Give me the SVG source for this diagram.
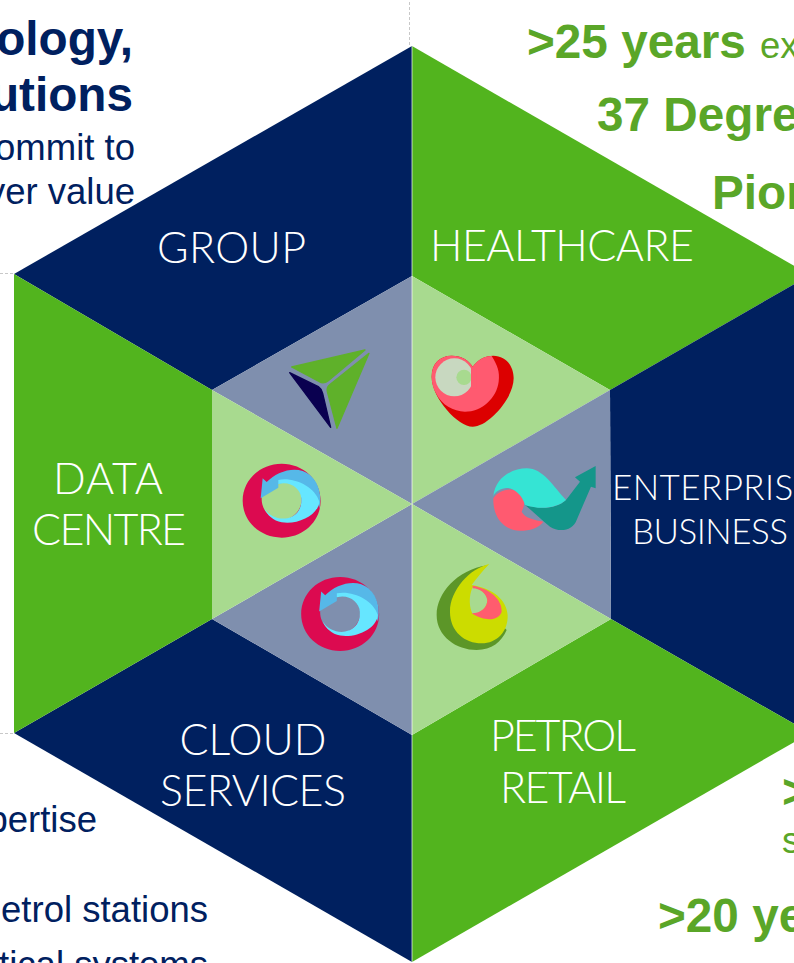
<svg xmlns="http://www.w3.org/2000/svg" width="794" height="963" viewBox="0 0 794 963">
<style>
.navy{fill:#00205f}.green{fill:#52b41e}.tintb{fill:#7f8fae}.tintg{fill:#a8da8f}
.lab{font-family:"Lato","Liberation Sans",sans-serif;font-weight:300;font-size:43px;fill:#fff;text-anchor:middle}
.lab2{font-size:35px}
.hb{font-family:"Liberation Sans",Arial,sans-serif;font-weight:700;font-size:47.700px}
.b{font-family:"Liberation Sans",Arial,sans-serif;font-size:36.500px}
.tn{fill:#00205f}.tg{fill:#5aa628}
.dot{fill:none;stroke:#c8c8c8;stroke-width:1;stroke-dasharray:3 2}
</style>
<defs>
<g id="ring">
<path fill="#dc0a50" fill-rule="evenodd" d="M98,512C98,450 150,401 215,401C280,401 332,450 332,512C332,574 280,623 215,623C150,623 98,574 98,512ZM155,508C155,541 182,570 215,570C248,570 275,541 275,508C275,473 248,448 215,448C182,448 155,473 155,508Z"/>
<path fill="#56b8e8" d="M158,445L170,456C205,420 265,405 300,435C330,462 335,500 328,535C320,490 270,440 205,462L205,473L152,505Z"/>
<path fill="#66e6ff" d="M205,450C250,440 315,470 328,515C325,555 265,585 215,577C190,572 172,557 163,535C190,582 278,578 274,505C272,475 240,452 205,462Z"/>
</g>
</defs>
<g id="left-text">
<text class="hb tn" x="133" y="55" text-anchor="end">ology,</text>
<text class="hb tn" x="133" y="111" text-anchor="end">utions</text>
<text class="b tn" x="135" y="160" text-anchor="end">ommit to</text>
<text class="b tn" x="135" y="204" text-anchor="end">ver value</text>
<text class="b tn" x="97" y="832" text-anchor="end">pertise</text>
<text class="b tn" x="208" y="922" text-anchor="end">etrol stations</text>
<text class="b tn" x="208" y="977" text-anchor="end">tical systems</text>
</g>
<g id="right-text">
<text class="hb tg" x="527" y="58">&gt;25 years</text>
<text class="b tg" x="760" y="58">ex</text>
<text class="hb tg" x="597" y="131">37 Degre</text>
<text class="hb tg" x="712" y="209">Pior</text>
<text class="hb tg" x="782" y="808">&gt;</text>
<text class="b tg" x="782" y="853">s</text>
<text class="hb tg" x="658" y="932">&gt;20 ye</text>
</g>
<g id="connectors">
<path class="dot" d="M409.500,2V46M0,273.500H14M0,733.500H14"/>
</g>
<g id="group-seg">
<path class="navy" d="M412,46L14,274L212,390L412,276Z"/>
<path class="tintb" d="M412,276L212,390L412,504Z"/>
<g transform="translate(210,330) scale(.3333)">
<path fill="#5fb12a" stroke="#5fb12a" stroke-width="4" stroke-linejoin="round" d="M245,111L465,60L355,152C345,160 335,160 328,155Z"/>
<path fill="#5fb12a" stroke="#5fb12a" stroke-width="4" stroke-linejoin="round" d="M477,70L381,295L352,185C350,175 352,170 358,165Z"/>
<path fill="#0a0050" stroke="#0a0050" stroke-width="4" stroke-linejoin="round" d="M239,128L325,170C332,175 336,180 338,190L362,292Z"/>
</g>
<text class="lab" x="231.500" y="263" textLength="149">GROUP</text>
</g>
<g id="healthcare-seg">
<path class="green" d="M412,46L810,275L610,390L412,276Z"/>
<path class="tintg" d="M412,276L610,390L412,504Z"/>
<g transform="translate(410,330) scale(.3333)">
<path fill="#dc0000" d="M65,140C65,100 90,77 125,77C155,77 175,90 188,110C205,88 225,77 250,77C285,77 311,105 311,145C311,205 235,290 188,290C145,290 65,205 65,140Z"/>
<path fill="#ff5a70" d="M65,140C65,100 90,77 125,77C155,77 175,90 188,110C205,88 225,77 245,78C262,105 270,125 266,155C260,205 215,245 165,245C130,245 95,225 78,190C70,175 65,160 65,140Z"/>
<circle cx="133" cy="142" r="57" fill="#c8d8c0"/>
<circle cx="162" cy="142" r="23" fill="#a8da8f"/>
<path fill="#ff5a70" d="M183,113H200V175H183Z"/>
</g>
<text class="lab" x="562" y="261" textLength="264">HEALTHCARE</text>
</g>
<g id="enterprise-seg">
<path class="navy" d="M810,275L610,390L611,619L810,733Z"/>
<path class="tintb" d="M610,390L611,619L412,504Z"/>
<g transform="translate(410,330) scale(.3333)">
<path fill="#ff5a70" d="M250,505C265,480 310,465 335,495C345,510 345,525 335,545C345,565 375,570 400,575C385,595 360,602 330,602C285,602 248,565 250,505Z"/>
<path fill="#14968a" d="M345,525C400,540 440,535 468,510L510,455L495,442L557,408L557,475L543,470L500,570C490,600 450,610 420,590C395,570 370,545 345,525Z"/>
<path fill="#35e4d4" d="M250,500C255,440 310,415 350,415C400,415 430,470 468,510C440,535 390,540 345,525C335,490 305,470 285,475C265,478 252,490 250,500Z"/>
</g>
<text class="lab lab2" x="713" y="500" textLength="202">ENTERPRISE</text>
<text class="lab lab2" x="710" y="544" textLength="156">BUSINESS</text>
</g>
<g id="petrol-seg">
<path class="green" d="M611,619L810,733L412,962L412,735Z"/>
<path class="tintg" d="M611,619L412,735L412,504Z"/>
<g transform="translate(280,550) scale(.3333)">
<path fill="#5c9628" d="M622,46C530,60 470,130 470,195C470,260 530,300 590,300C635,300 665,275 680,240L560,110Z"/>
<path fill="#ccdc00" d="M628,42C570,55 510,120 510,185C510,245 555,280 605,280C650,280 685,245 683,195C680,150 640,115 575,105C590,85 610,60 628,42Z"/>
<path fill="#a8da8f" d="M578,112C565,140 568,175 578,192C605,190 622,170 622,150C620,130 600,115 578,112Z"/>
<path fill="#ff5c6e" d="M578,107C630,115 668,150 665,185C660,205 625,222 575,190C605,190 622,170 622,150C618,130 600,115 578,115Z"/>
</g>
<text class="lab" x="563" y="751" textLength="146">PETROL</text>
<text class="lab" x="563" y="803" textLength="126">RETAIL</text>
</g>
<g id="cloud-seg">
<path class="navy" d="M412,735L412,962L14,733L212,619Z"/>
<path class="tintb" d="M412,735L212,619L412,504Z"/>
<use href="#ring" transform="translate(268.500,443.300) scale(.3333)"/>
<text class="lab" x="253" y="755" textLength="147">CLOUD</text>
<text class="lab" x="253" y="806" textLength="186">SERVICES</text>
</g>
<g id="datacentre-seg">
<path class="green" d="M14,274L14,733L212,619L212,390Z"/>
<path class="tintg" d="M212,390L212,619L412,504Z"/>
<use href="#ring" transform="translate(210,330) scale(.3333)"/>
<text class="lab" x="108" y="494" textLength="110">DATA</text>
<text class="lab" x="109" y="545" textLength="154">CENTRE</text>
</g>
<path id="spine" d="M412,46V962" stroke="#fff" stroke-opacity=".45" stroke-width="1.500" fill="none"/>
</svg>
